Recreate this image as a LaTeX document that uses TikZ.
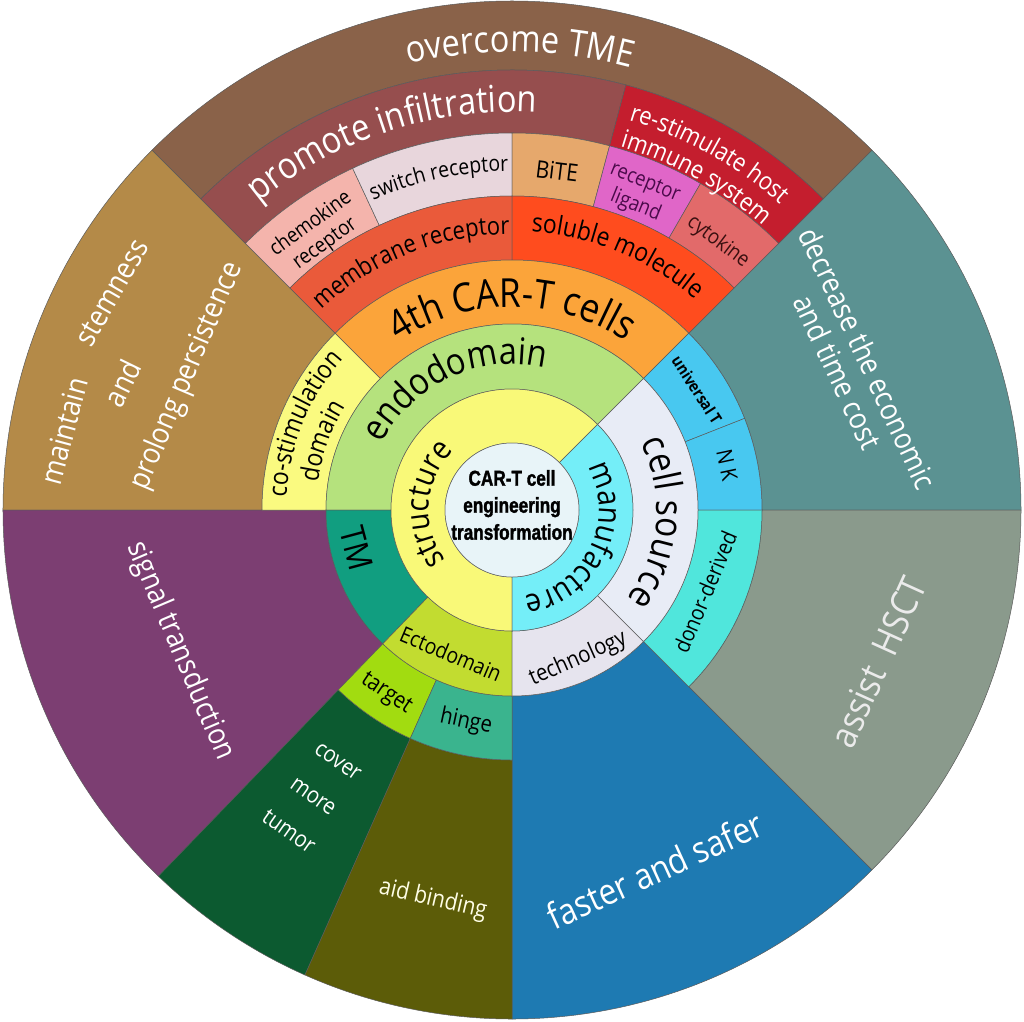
\documentclass[tikz,border=0pt]{standalone}
\usepackage{fontspec}
\newfontfamily\lbl{Open Sans}[FakeStretch=0.88]
\newfontfamily\ctr{Liberation Sans}[FakeStretch=0.8,BoldFeatures={FakeStretch=0.8,FakeBold=1.5}]
\usetikzlibrary{decorations.text}
\definecolor{cTME}{HTML}{8A6249}
\definecolor{cPI}{HTML}{964E4E}
\definecolor{cRS}{HTML}{C41E2E}
\definecolor{cCR}{HTML}{F4B4AC}
\definecolor{cSR}{HTML}{E8D6DC}
\definecolor{cBiTE}{HTML}{E6A86C}
\definecolor{cRL}{HTML}{E066C8}
\definecolor{cCyt}{HTML}{E26A6A}
\definecolor{cMR}{HTML}{EA5A3A}
\definecolor{cSM}{HTML}{FF4C1E}
\definecolor{cFourth}{HTML}{FBA43A}
\definecolor{cCo}{HTML}{FAFA80}
\definecolor{cEndo}{HTML}{B5E27D}
\definecolor{cStr}{HTML}{F9F978}
\definecolor{cMan}{HTML}{74EEF8}
\definecolor{cCen}{HTML}{E8F4F8}
\definecolor{cCS}{HTML}{E8ECF6}
\definecolor{cTech}{HTML}{E6E4EE}
\definecolor{cUT}{HTML}{48C8F0}
\definecolor{cNK}{HTML}{48C8F0}
\definecolor{cDD}{HTML}{50E6DC}
\definecolor{cTM}{HTML}{119E80}
\definecolor{cEcto}{HTML}{C2DC30}
\definecolor{cTar}{HTML}{A2DC10}
\definecolor{cHin}{HTML}{3AB48E}
\definecolor{cMain}{HTML}{B48A48}
\definecolor{cDec}{HTML}{5B9292}
\definecolor{cHSCT}{HTML}{8A9A8C}
\definecolor{cFast}{HTML}{1E7AB2}
\definecolor{cSig}{HTML}{7C3E72}
\definecolor{cCov}{HTML}{0C5A30}
\definecolor{cAid}{HTML}{5C5C08}
\definecolor{edgec}{HTML}{5A5A5A}
\definecolor{txtRL}{HTML}{4B0A4B}
\definecolor{txtCy}{HTML}{3A1010}
\newcommand{\mysector}[5]{\filldraw[fill=#1, draw=edgec, line width=0.5pt] (#2:#4pt) arc[start angle=#2, end angle=#3, radius=#4pt] -- (#3:#5pt) arc[start angle=#3, end angle=#2, radius=#5pt] -- cycle;}
\newcommand{\arctext}[6][black]{\path[decorate, decoration={text along path, text align=center, text color=#1, text={|\lbl\fontsize{#5}{#5}\selectfont|#6}}] ({#3+#4}:#2pt) arc[start angle={#3+#4}, end angle={#3-#4}, radius=#2pt];}
\tikzset{
  lab/.style={inner sep=0pt, align=center},
  fs/.style 2 args={font=\lbl\fontsize{#1}{#2}\selectfont},
  wt/.style={text=white}
}
\begin{document}
\begin{tikzpicture}
\useasboundingbox (-512pt,-511pt) rectangle (512pt,510pt);
% outer wedges
\mysector{cMain}{135}{180}{250}{509}
\mysector{cDec}{0}{45}{250}{509}
\mysector{cHSCT}{-45}{0}{250}{509}
\mysector{cFast}{-90}{-45}{186}{509}
\mysector{cSig}{180}{226}{186}{509}
\mysector{cCov}{226}{246}{250}{509}
\mysector{cAid}{246}{270}{250}{509}
% ring 7
\mysector{cTME}{45}{135}{440}{509}
% ring 6
\mysector{cPI}{75}{135}{377}{440}
\mysector{cRS}{45}{75}{377}{440}
% ring 5
\mysector{cCR}{115}{135}{314}{377}
\mysector{cSR}{90}{115}{314}{377}
\mysector{cBiTE}{75}{90}{314}{377}
\mysector{cRL}{60}{75}{314}{377}
\mysector{cCyt}{45}{60}{314}{377}
% ring 4
\mysector{cMR}{90}{135}{250}{314}
\mysector{cSM}{45}{90}{250}{314}
% ring 3
\mysector{cCo}{135}{180}{186}{250}
\mysector{cFourth}{45}{135}{186}{250}
\mysector{cUT}{21.5}{45}{186}{250}
\mysector{cNK}{0}{21.5}{186}{250}
\mysector{cDD}{-45}{0}{186}{250}
\mysector{cTar}{226}{246}{186}{250}
\mysector{cHin}{246}{270}{186}{250}
% ring 2
\mysector{cEndo}{45}{180}{121}{186}
\mysector{cTM}{180}{226}{121}{186}
\mysector{cEcto}{226}{270}{121}{186}
\mysector{cTech}{-90}{-45}{121}{186}
\mysector{cCS}{-45}{45}{121}{186}
% ring 1
\mysector{cStr}{45}{270}{67}{121}
\mysector{cMan}{-90}{45}{67}{121}
% center
\filldraw[fill=cCen, draw=edgec, line width=0.5pt] (0,0) circle[radius=67pt];
\node[lab, font=\ctr\bfseries\fontsize{21.5}{27}\selectfont] (center) at (0pt,5pt) {CAR-T cell\\engineering\\transformation};

% curved labels
\arctext[white]{458}{89}{25}{37}{overcome TME}
\arctext[white]{398}{108}{35}{37}{promote infiltration}
\arctext[white]{407}{61}{22}{25}{re-stimulate host}
\arctext[white]{379}{61}{22}{25}{immune system}
\arctext{339}{102.4}{20}{22}{switch receptor}
\arctext{276}{112}{30}{25}{membrane receptor}
\arctext{279}{67.5}{30}{26}{soluble molecule}
\arctext{203}{90}{50}{40}{4th CAR-T cells}
\arctext{226}{157.5}{35}{26}{co-stimulation}
\arctext{196}{160}{30}{26}{domain}
\arctext{146}{115}{55}{37}{endodomain}
\arctext{83}{176}{60}{32}{structure}
\arctext{87}{-26}{75}{32}{manufacture}
\arctext{145}{-5}{50}{38}{cell source}

% straight labels
\node[lab, fs={21}{24}, rotate=36] (chemo) at (-194pt,276pt) {chemokine\\receptor};
\node[lab, fs={24}{26}, rotate=-7] (bite) at (45pt,339pt) {BiTE};
\node[lab, fs={21}{25}, rotate=-22, text=txtRL] (recl) at (128pt,315pt) {receptor\\ligand};
\node[lab, fs={21}{22}, rotate=-37, text=txtCy] (cyto) at (206pt,268pt) {cytokine};
\node[lab, font=\lbl\bfseries\fontsize{16}{18}\selectfont, rotate=-57] (univ) at (185pt,120pt) {universal T};
\node[lab, fs={22}{24}, rotate=-78] (nk) at (215pt,45pt) {N K};
\node[lab, fs={22}{24}, rotate=67] (donor) at (193pt,-82pt) {donor-derived};
\node[lab, fs={23}{25}, rotate=24] (tech) at (66pt,-149pt) {technology};
\node[lab, fs={22}{24}, rotate=-23] (ecto) at (-61pt,-144pt) {Ectodomain};
\node[lab, fs={23}{25}, rotate=-34] (target) at (-126pt,-184pt) {target};
\node[lab, fs={23}{25}, rotate=-12] (hinge) at (-46pt,-212pt) {hinge};
\node[lab, fs={34}{36}, rotate=-75] (tm) at (-155pt,-38pt) {TM};

\node[lab, wt, fs={30}{32}, rotate=75] (maintain) at (-448pt,79pt) {maintain};
\node[lab, wt, fs={30}{32}, rotate=60] (stem) at (-400pt,217pt) {stemness};
\node[lab, wt, fs={30}{32}, rotate=64] (and) at (-390pt,127pt) {and};
\node[lab, wt, fs={30}{32}, rotate=67] (prolong) at (-325pt,134pt) {prolong persistence};
\node[lab, wt, fs={30}{33}, rotate=-65] (decrease) at (341pt,145pt) {decrease the economic\\and time cost};
\node[lab, wt, fs={30}{32}, rotate=-67] (signal) at (-332pt,-141pt) {signal transduction};
\node[lab, text=white!92!black, fs={37}{40}, rotate=65.6] (hsct) at (366pt,-152pt) {assist\ \ HSCT};
\node[lab, wt, fs={36}{40}, rotate=24.5] (faster) at (143pt,-360pt) {faster and safer};
\node[lab, text=white!90!yellow, fs={24}{26}, rotate=-13] (aid) at (-79pt,-390pt) {aid binding};
\node[lab, wt, fs={23}{43}, rotate=-35] (cover) at (-199pt,-287pt) {cover\\more\\tumor};
\end{tikzpicture}
\end{document}
